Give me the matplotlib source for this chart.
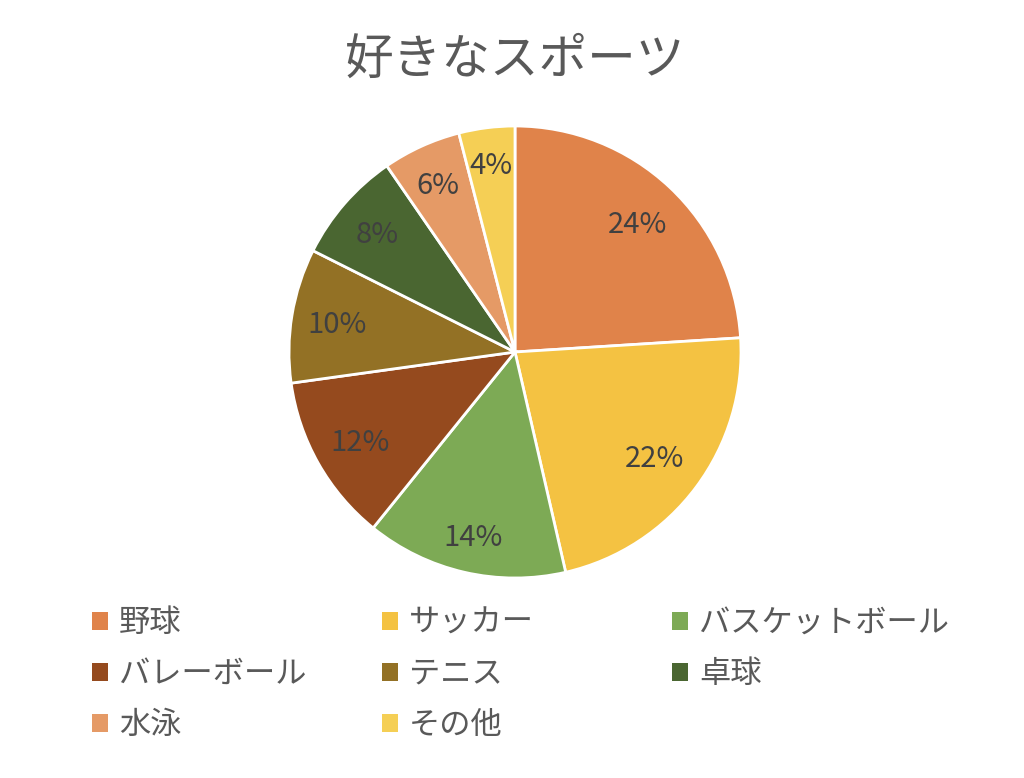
import matplotlib
matplotlib.use("Agg")
import matplotlib.pyplot as plt
import numpy as np

plt.rcParams['font.family'] = ['Noto Sans CJK JP', 'DejaVu Sans']

title = "好きなスポーツ"
categories = ["野球", "サッカー", "バスケットボール", "バレーボール", "テニス", "卓球", "水泳", "その他"]
values = [30, 28, 18, 15, 12, 10, 7, 5]
colors = ["#E0834A", "#F4C242", "#7DAA55", "#954A1E", "#937125", "#4A6631", "#E59A66", "#F5CF55"]

# radial placement of each percentage label (fraction of radius)
label_dist = [0.79, 0.77, 0.83, 0.79, 0.80, 0.81, 0.82, 0.84]

W, H = 1024, 778
fig = plt.figure(figsize=(W/100, H/100), dpi=100)
cx, cy, r = 515, 352, 226
ax = fig.add_axes([(cx-r)/W, 1-(cy+r)/H, 2*r/W, 2*r/H])
wedges, texts, autotexts = ax.pie(values, colors=colors, startangle=90, counterclock=False,
                                  autopct='%.0f%%', pctdistance=0.8,
                                  wedgeprops=dict(edgecolor='white', linewidth=2),
                                  textprops=dict(color='#404040', fontsize=21))
for w, t, d in zip(wedges, autotexts, label_dist):
    ang = np.deg2rad((w.theta1 + w.theta2) / 2)
    t.set_position((d * np.cos(ang), d * np.sin(ang) - 0.012))
ax.set_xlim(-1, 1)
ax.set_ylim(-1, 1)
ax.set_aspect('equal')
fig.text(cx/W, 1-60/H, title, ha='center', va='center', fontsize=35, color='#595959')

col_x = [92, 382, 672]
row_y = [623, 674, 725]
for i, (w, lab) in enumerate(zip(wedges, categories)):
    c, rr = i % 3, i // 3
    leg = fig.legend([w], [lab], loc='center left',
                     bbox_to_anchor=(col_x[c]/W, 1-row_y[rr]/H),
                     frameon=False, fontsize=22.5, labelcolor='#595959',
                     handlelength=0.5, handleheight=0.5, handletextpad=0.37,
                     borderpad=0, borderaxespad=0)
    for h in leg.legend_handles:
        h.set_edgecolor('none')
fig.savefig("out.png", dpi=100)
